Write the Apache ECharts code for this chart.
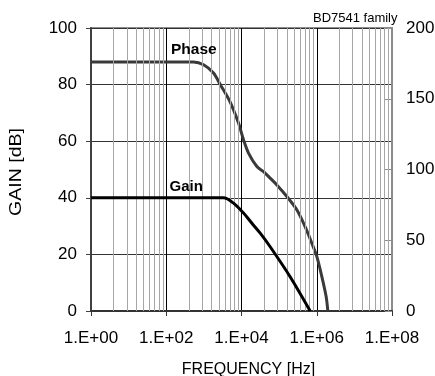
<!DOCTYPE html>
<html>
<head>
<meta charset="utf-8">
<script src="https://cdn.jsdelivr.net/npm/echarts@6/dist/echarts.min.js"></script>
<style>
html,body{margin:0;padding:0;background:#fff;}
#chart{width:435px;height:376px;}
</style>
</head>
<body>
<div id="chart"></div>
<script>
// Phase curve (right axis, degrees)
const phaseFreq = [1, 531, 980, 1805, 2717, 4900, 8320, 11300, 15350, 25650, 38400, 57800, 87100, 160700, 295000, 490000, 741000, 1007000, 1366000, 1780000, 1970000];
const phaseDeg  = [176, 176, 174, 168.2, 160.1, 148.1, 132.8, 121, 111.6, 102.1, 98.5, 93.9, 89.1, 80.9, 71.5, 59.6, 47.9, 38.4, 24.3, 10.1, 0];
// Gain curve (left axis, dB)
const gainFreq = [1, 3320, 6130, 11300, 18900, 31400, 57800, 196000, 668000];
const gainDb   = [40, 40, 38.1, 34.6, 31.0, 27.5, 22.7, 12.1, 0];
// Minor grid multipliers within each 2-decade major step
const minorMult = [4, 9, 16, 25, 36, 49, 64, 81];
const majorSteps = [1, 100, 10000, 1000000];

const FONT = '"Liberation Sans", Arial, sans-serif';

const minorLines = [];
majorSteps.forEach(function (b) {
  minorMult.forEach(function (m) { minorLines.push({ xAxis: b * m }); });
});

function expLabel(v) {
  const e = Math.round(Math.log10(v));
  return '1.E+' + (e < 10 ? '0' + e : String(e));
}

const chart = echarts.init(document.getElementById('chart'), null, { renderer: 'canvas' });
chart.setOption({
  backgroundColor: '#fff',
  animation: false,
  grid: { left: 91, right: 43, top: 28, bottom: 65, containLabel: false, outerBoundsMode: 'none', show: true, borderColor: '#8c8c8c', borderWidth: 2, backgroundColor: 'transparent' },
  xAxis: {
    type: 'log', logBase: 100, min: 1, max: 1e8, splitNumber: 4,
    name: 'FREQUENCY [Hz]', nameLocation: 'middle', nameGap: 51,
    nameTextStyle: { fontFamily: FONT, fontSize: 16, color: '#000', padding: [0, 0, 0, 14] },
    axisLine: { show: true, lineStyle: { color: '#333', width: 2 } },
    axisTick: { show: true, inside: false, length: 5, lineStyle: { color: '#333', width: 1 } },
    minorTick: { show: false },
    axisLabel: { formatter: expLabel, fontFamily: FONT, fontSize: 17, color: '#000', margin: 19 },
    splitLine: { show: true, lineStyle: { color: '#000', width: 1 } }
  },
  yAxis: [
    {
      type: 'value', min: 0, max: 100, interval: 20, position: 'left',
      axisLine: { show: true, lineStyle: { color: '#404040', width: 2 } },
      axisTick: { show: true, inside: false, length: 5, lineStyle: { color: '#404040', width: 1 } },
      axisLabel: { fontFamily: FONT, fontSize: 17, color: '#000', margin: 14 },
      splitLine: { show: true, lineStyle: { color: '#333', width: 1 } }
    },
    {
      type: 'value', min: 0, max: 200, interval: 50, position: 'right',
      axisLine: { show: true, lineStyle: { color: '#8c8c8c', width: 2 } },
      axisTick: { show: true, inside: true, length: 7, lineStyle: { color: '#8c8c8c', width: 1 } },
      axisLabel: { fontFamily: FONT, fontSize: 17, color: '#000', margin: 14 },
      splitLine: { show: false }
    }
  ],
  series: [
    {
      type: 'line', data: [], z: 1, silent: true,
      markLine: {
        silent: true, symbol: 'none', animation: false,
        label: { show: false },
        lineStyle: { color: '#a6a6a6', width: 1, type: 'solid' },
        emphasis: { disabled: true },
        data: minorLines
      }
    },
    {
      name: 'Phase', type: 'line', yAxisIndex: 1, z: 4,
      data: phaseFreq.map(function (f, i) { return [f, phaseDeg[i]]; }),
      showSymbol: false, smooth: 0.3,
      lineStyle: { color: '#3a3a3a', width: 3 }
    },
    {
      name: 'Gain', type: 'line', yAxisIndex: 0, z: 5,
      data: gainFreq.map(function (f, i) { return [f, gainDb[i]]; }),
      showSymbol: false, smooth: 0.3,
      lineStyle: { color: '#000', width: 3 }
    }
  ],
  graphic: [
    { type: 'text', z: 10, x: 17, y: 172, rotation: Math.PI / 2, scaleX: 1.22,
      style: { text: 'GAIN [dB]', x: 0, y: 0, fontFamily: FONT, fontSize: 16, fill: '#000', textAlign: 'center', textVerticalAlign: 'middle' } },
    { type: 'text', z: 10, style: { text: 'Phase', x: 171, y: 49.5, fontFamily: FONT, fontSize: 15.5, fontWeight: 'bold', fill: '#000', textVerticalAlign: 'middle' } },
    { type: 'text', z: 10, style: { text: 'Gain', x: 169.5, y: 186.5, fontFamily: FONT, fontSize: 15, fontWeight: 'bold', fill: '#000', textVerticalAlign: 'middle' } },
    { type: 'text', z: 10, style: { text: 'BD7541 family', x: 397.5, y: 18.5, fontFamily: FONT, fontSize: 13, fill: '#000', textAlign: 'right', textVerticalAlign: 'middle' } }
  ]
});
</script>
</body>
</html>
